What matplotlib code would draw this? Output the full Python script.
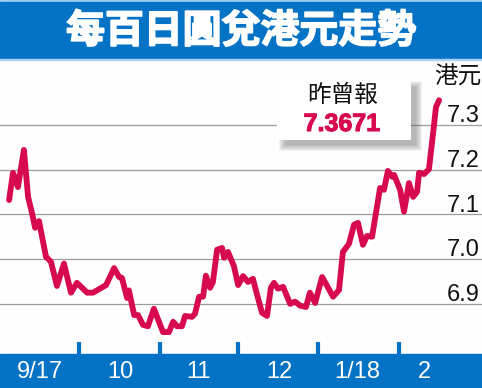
import matplotlib

matplotlib.use("Agg")
import matplotlib.pyplot as plt
import matplotlib.patheffects as pe
from matplotlib.patches import Rectangle

W, H = 482, 388
CJK = ["Noto Sans CJK TC", "DejaVu Sans"]
NUM = ["Liberation Sans", "DejaVu Sans"]
C_BLUE = "#0573c5"
C_LINE = "#d7094f"
C_GRID = "#9c9c9c"

# x = days counted from 2017-09-01, y = HKD per 100 JPY
days = [3.1, 4.6, 6.5, 8.8, 10.4, 11.9, 13.1, 14.6, 17.3, 19.2,
        21.5, 24.2, 26.9, 29.2, 33.1, 35.4, 40.4, 43.5, 45.4, 46.5,
        48.5, 49.2, 51.2, 52.7, 54.6, 56.5, 58.8, 62.3, 64.6, 66.2,
        67.7, 69.6, 70.8, 73.5, 74.6, 76.2, 77.7, 78.8, 80.4, 81.5,
        83.1, 85.0, 85.8, 87.3, 89.6, 91.2, 93.1, 95.0, 96.9, 98.5,
        100.4, 102.3, 103.8, 105.0, 106.5, 108.5, 111.2, 113.1, 115.0, 117.3,
        118.8, 120.8, 123.5, 125.8, 127.7, 130.0, 131.5, 133.8, 135.8, 137.3,
        139.2, 140.8, 142.7, 145.8, 147.3, 148.8, 150.4, 151.2, 153.5, 155.0,
        156.9, 158.5, 160.0, 160.8, 162.7, 164.6, 166.2, 167.3, 168.5]
rate = [7.132, 7.193, 7.161, 7.244, 7.139, 7.103, 7.070, 7.085, 7.005, 6.994,
        6.940, 6.990, 6.925, 6.947, 6.925, 6.925, 6.942, 6.980, 6.960, 6.958,
        6.913, 6.930, 6.875, 6.875, 6.853, 6.850, 6.889, 6.837, 6.837, 6.860,
        6.850, 6.850, 6.873, 6.871, 6.878, 6.916, 6.916, 6.963, 6.936, 6.949,
        7.021, 7.025, 7.003, 7.016, 6.984, 6.942, 6.962, 6.949, 6.956, 6.920,
        6.880, 6.873, 6.936, 6.947, 6.934, 6.938, 6.900, 6.905, 6.896, 6.893,
        6.925, 6.902, 6.960, 6.936, 6.916, 6.931, 7.016, 7.034, 7.077, 7.081,
        7.032, 7.052, 7.050, 7.159, 7.155, 7.197, 7.184, 7.188, 7.155, 7.106,
        7.170, 7.139, 7.150, 7.193, 7.190, 7.201, 7.282, 7.340, 7.355]

month_ticks = [30, 61, 91, 122, 153]
month_label_pos = [15, 46, 76, 107, 137, 163]
month_labels = ["9/17", "10", "11", "12", "1/18", "2"]
y_ticks = [6.9, 7.0, 7.1, 7.2, 7.3]
latest = "7.3671"


def rect_px(ax, x0, y0, x1, y1, **kw):
    # rectangle given in picture pixels (top-left origin)
    ax.add_patch(Rectangle((x0 / W, 1 - y1 / H), (x1 - x0) / W, (y1 - y0) / H,
                           transform=ax.transAxes, clip_on=False, **kw))


fig = plt.figure(figsize=(W / 100, H / 100), dpi=100, facecolor="#fdfefd")
ax = fig.add_axes([0, 0, 1, 1])
ax.set_facecolor("#fdfefd")
ax.set_xlim(-0.4, 185.0)
ax.set_ylim(6.712, 7.579)
ax.set_axis_off()

# gridlines
for v in y_ticks:
    ax.axhline(v, color=C_GRID, lw=0.9, zorder=1)
    ax.text(1 - 2 / W, v + 0.006, f"{v:.1f}", transform=ax.get_yaxis_transform(),
            ha="right", va="baseline", fontsize=17, family=NUM, color="#111111", zorder=5)

ax.plot(days, rate, color=C_LINE, lw=4.2, solid_joinstyle="round",
        solid_capstyle="round", zorder=3)

# title bar
rect_px(ax, 0, 0, W, 2, color="#9fd0ee", zorder=6)
rect_px(ax, 0, 2, W, 59, color=C_BLUE, zorder=6)
rect_px(ax, 0, 59, W, 60, color="#a8d4f0", zorder=6)
ax.text(241 / W, 1 - 31 / H, "每百日圓兌港元走勢", transform=ax.transAxes,
        ha="center", va="center", fontsize=28, fontweight="bold", family=CJK,
        color="white", zorder=7,
        path_effects=[pe.withStroke(linewidth=1.2, foreground="white")])

# bottom bar and month ticks
rect_px(ax, 0, 354, W, H, color=C_BLUE, zorder=6)
ax.vlines(month_ticks, 1 - 354 / H, 1 - 342 / H, transform=ax.get_xaxis_transform(),
          color=C_BLUE, lw=3.0, zorder=6)
for pos, lab in zip(month_label_pos, month_labels):
    ax.text(pos, 1 - 372 / H, lab, transform=ax.get_xaxis_transform(),
            ha="center", va="center", fontsize=17, family=NUM, color="white", zorder=7)

ax.text(458 / W, 1 - 77 / H, "港元", transform=ax.transAxes, ha="center", va="center",
        fontsize=17, family=CJK, color="#111111", zorder=5)

# callout box with soft shadow
for k in range(7):
    e = 4 - k
    rect_px(ax, 283 - e, 85 - e, 418 + e, 147 + e, color="#555555", alpha=0.07,
            lw=0, zorder=4)
rect_px(ax, 277, 79, 411, 140, color="white", lw=0, zorder=4)
ax.text(343 / W, 1 - 95 / H, "昨曾報", transform=ax.transAxes, ha="center",
        va="center", fontsize=17, family=CJK, color="#111111", zorder=5)
ax.text(342 / W, 1 - 124 / H, latest, transform=ax.transAxes, ha="center",
        va="center", fontsize=18, fontweight="bold", family=NUM, color=C_LINE, zorder=5,
        path_effects=[pe.withStroke(linewidth=0.8, foreground=C_LINE)])

fig.savefig("out.png", dpi=100, facecolor=fig.get_facecolor())
plt.close(fig)
